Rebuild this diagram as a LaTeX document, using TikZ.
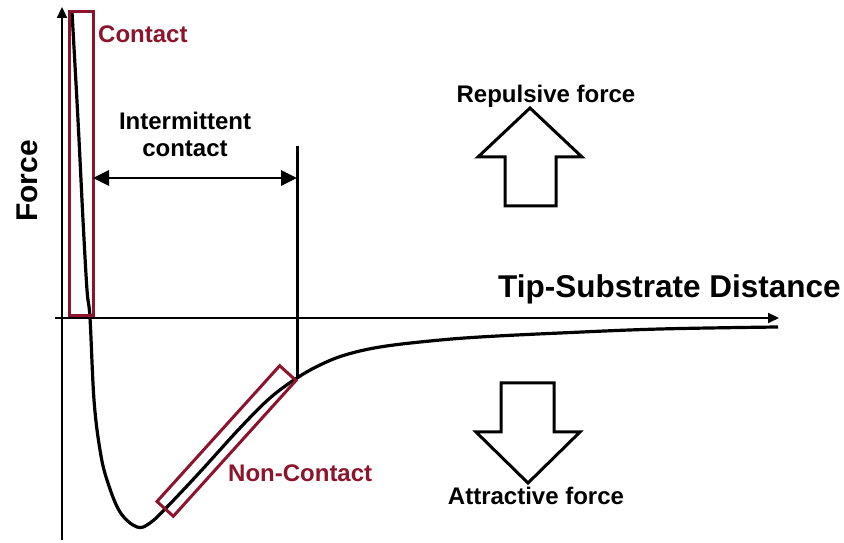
\documentclass[tikz,border=0pt]{standalone}
\usepackage{fontspec}
\setmainfont{Liberation Sans}
\usetikzlibrary{arrows.meta}
\definecolor{boxred}{RGB}{140,20,45}

\begin{document}
\begin{tikzpicture}[x=1pt, y=1pt, >={Triangle[length=16pt,width=15pt]},
		lbl/.style={font=\fontsize{24}{27}\selectfont\bfseries, inner sep=0pt},
		biglbl/.style={font=\fontsize{30}{34}\selectfont\bfseries, inner sep=0pt},
		redlbl/.style={lbl, text=boxred},
		redbox/.style={draw=boxred, line width=3pt, inner sep=0pt},
		blockarrow/.style={draw, line width=3pt, line join=miter, fill=white}]
			\useasboundingbox (0,0) rectangle (844,543);
			\coordinate (ybot) at (62,3);
			\coordinate (ytop) at (62,536);
			\coordinate (xleft) at (55,225);
			\coordinate (xright) at (779,225);
			\draw[line width=2.2pt, -{Triangle[length=11pt,width=10pt]}] (ybot) -- (ytop);
			\draw[line width=2.2pt, -{Triangle[length=11pt,width=10pt]}] (xleft) -- (xright);
			\draw[line width=3.2pt] plot[smooth, tension=0.6] coordinates {(72,531) (78,423) (83,323) (87,253) (90,225) (94,143) (100,93) (107,63) (120,31) (137,16) (150,20) (167,36) (200,71) (240,115) (270,145) (297,165) (320,178) (345,188) (380,196) (430,202) (480,206) (560,210) (660,214) (778,216)};
			\node[redbox, minimum width=24pt, minimum height=304pt] (contactbox) at (81,379) {};
			\node[redbox, rotate=47.9, minimum width=183pt, minimum height=22pt] (ncbox) at (226.5,102) {};
			\coordinate (ictop) at (297,397);
			\coordinate (icbot) at (297,165);
			\draw[line width=3pt] (ictop) -- (icbot);
			\coordinate (icleft) at (93,365);
			\coordinate (icright) at (297,365);
			\draw[line width=2.8pt, <->] (icleft) -- (icright);
			\node[biglbl, font=\fontsize{31.5}{34}\selectfont\bfseries, anchor=base west] (distlbl) at (498,245) {Tip-Substrate Distance};
			\node[biglbl, rotate=90, anchor=base] (forcelbl) at (37,362) {Force};
			\node[redlbl, anchor=base west] (contactlbl) at (98,500) {Contact};
			\node[lbl, align=center] (iclbl) at (185,409) {Intermittent\\contact};
			\node[redlbl, anchor=base west] (nclbl) at (228,61) {Non-Contact};
			\node[lbl, anchor=base] (replbl) at (546,440) {Repulsive force};
			\node[lbl, anchor=base] (attlbl) at (536,38) {Attractive force};
			\draw[blockarrow] (530,435) -- (582,386) -- (556,386) -- (556,337) -- (505,337) -- (505,386) -- (478,386) -- cycle;
			\draw[blockarrow] (528,60) -- (580,111) -- (554,111) -- (554,160) -- (501,160) -- (501,111) -- (476,111) -- cycle;
		\end{tikzpicture}
\end{document}
